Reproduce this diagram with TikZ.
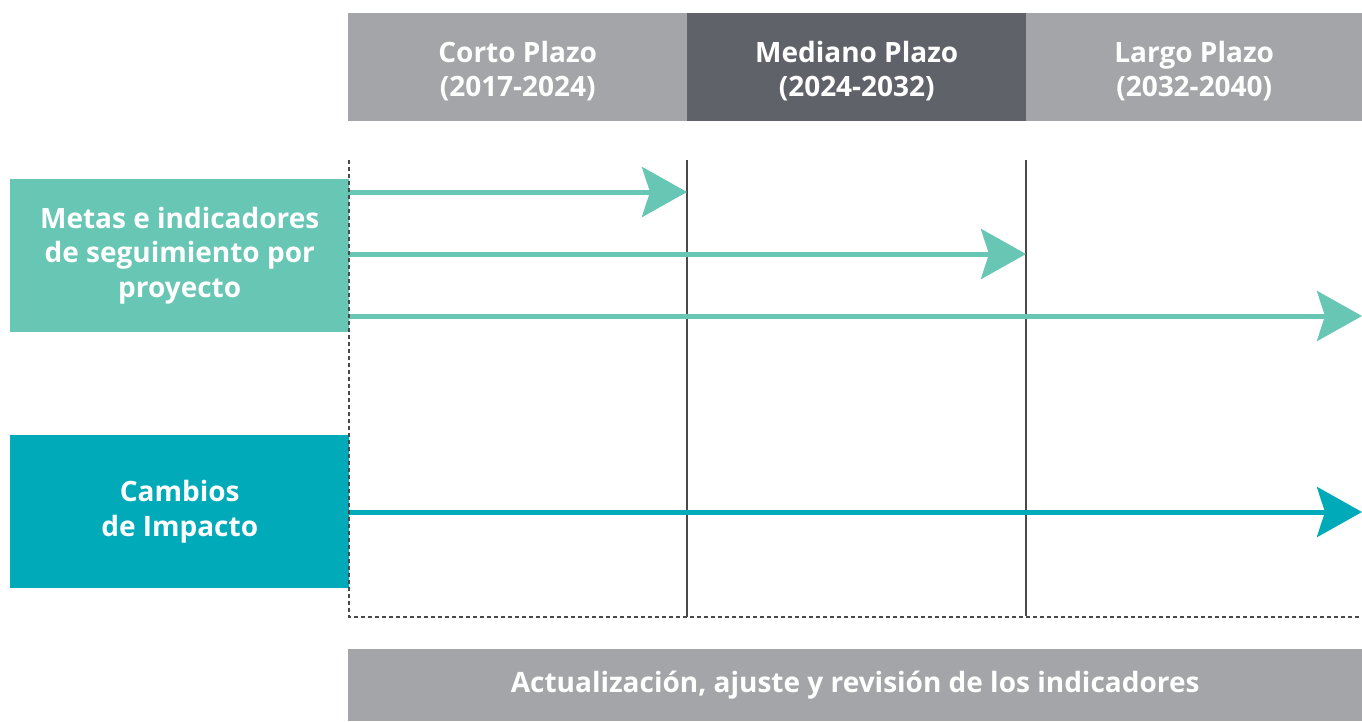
\documentclass[tikz,border=0pt]{standalone}
\usepackage{fontspec}
\setmainfont{Open Sans}
\usetikzlibrary{arrows.meta}
\definecolor{lgray}{HTML}{A3A5A8}
\definecolor{dgray}{HTML}{5F6269}
\definecolor{mint}{HTML}{68C6B5}
\definecolor{teal2}{HTML}{00AAB9}
\definecolor{lineg}{HTML}{4A4A4A}
\tikzset{
  box/.style={draw=none, inner sep=0pt, text=white, align=center,
    font=\fontsize{28}{34.5}\selectfont\bfseries},
  hdr/.style={box, minimum width=339pt, minimum height=108pt, text height=64pt},
  side/.style={box, minimum width=339pt, minimum height=153pt},
  divider/.style={lineg, line width=1.3pt},
  dotline/.style={lineg, line width=2.6pt, dash pattern=on 4pt off 3pt},
  arr/.style={line width=5pt, -{Stealth[length=45pt, width=50pt, inset=8pt]}},
}
\begin{document}
\begin{tikzpicture}[x=1pt, y=-1pt]
\useasboundingbox (0,0) rectangle (1362,721);
% headers
\node[hdr, fill=lgray, anchor=north west] (h1) at (348,13) {Corto Plazo\\(2017-2024)};
\node[hdr, fill=dgray, anchor=north west] (h2) at (687,13) {Mediano Plazo\\(2024-2032)};
\node[hdr, fill=lgray, anchor=north west, minimum width=336pt] (h3) at (1026,13) {Largo Plazo\\(2032-2040)};
% side boxes
\node[side, fill=mint, anchor=north west] (metas) at (10,179) {Metas e indicadores\\de seguimiento por\\proyecto};
\node[side, fill=teal2, anchor=north west] (cambios) at (10,435) {Cambios\\de Impacto};
% bottom bar
\node[box, fill=lgray, anchor=north west, minimum width=1014pt, minimum height=72pt] (act) at (348,649) {Actualización, ajuste y revisión de los indicadores};
% grid coordinates
\coordinate (d1t) at (687,160);
\coordinate (d1b) at (687,617);
\coordinate (d2t) at (1026,160);
\coordinate (d2b) at (1026,616);
\coordinate (ltop) at (349,160);
\coordinate (lbot) at (349,617);
\coordinate (rbot) at (1362,617);
\draw[divider] (d1t) -- (d1b);
\draw[divider] (d2t) -- (d2b);
% arrows
\coordinate (e1) at (687,192);
\coordinate (e2) at (1026,254);
\coordinate (e3) at (1362,316);
\coordinate (e4) at (1362,512);
\draw[arr, mint] (metas.east |- e1) -- (e1);
\draw[arr, mint] (metas.east |- e2) -- (e2);
\draw[arr, mint] (metas.east |- e3) -- (e3);
\draw[arr, teal2] (cambios.east |- e4) -- (e4);
% dotted frame
\draw[dotline] (ltop) -- (lbot) -- (rbot);
\end{tikzpicture}
\end{document}
